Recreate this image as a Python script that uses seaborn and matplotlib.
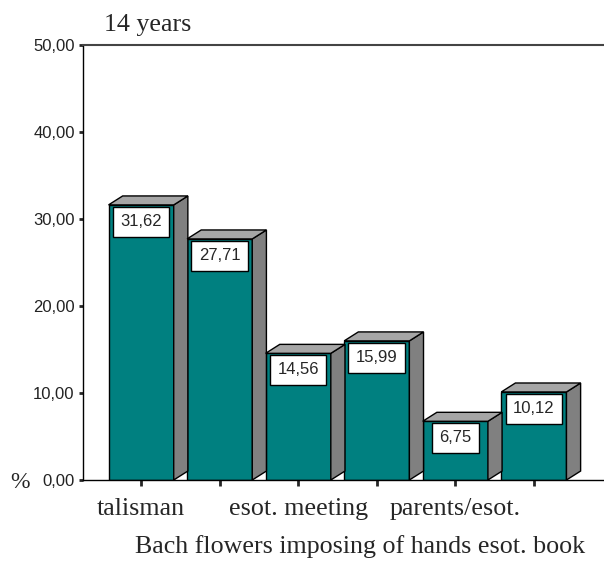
import matplotlib
matplotlib.use("Agg")
import matplotlib.pyplot as plt
from matplotlib.patches import Polygon
from matplotlib.ticker import FuncFormatter
import seaborn as sns

# data
categories = ["talisman", "Bach flowers", "esot. meeting",
              "imposing of hands", "parents/esot.", "esot. book"]
values = [31.62, 27.71, 14.56, 15.99, 6.75, 10.12]
y_ticks = [0, 10, 20, 30, 40, 50]
title = "14 years"
unit = "%"

TEAL = "#008080"
SIDE = "#808080"
TOP = "#a6a6a6"
SERIF = ["Liberation Serif", "DejaVu Serif"]
SANS = ["Liberation Sans", "DejaVu Sans"]


def comma_fmt(v, _pos):
    return f"{v:.2f}".replace(".", ",")


def main():
    sns.set_style("white")
    fig = plt.figure(figsize=(6.04, 5.61), dpi=100)
    ax = fig.add_axes([83 / 604, 81 / 561, 520 / 604, 435 / 561])

    sns.barplot(x=categories, y=values, order=categories, color=TEAL,
                saturation=1, width=0.83, edgecolor="black", linewidth=1,
                ax=ax)

    # fake 3D: side and top faces from the drawn bars
    dx, dy = 0.18, 1.03
    for p in list(ax.patches):
        x0, w, h = p.get_x(), p.get_width(), p.get_height()
        x1 = x0 + w
        side = Polygon([(x1, 0), (x1, h), (x1 + dx, h + dy), (x1 + dx, dy)],
                       closed=True, facecolor=SIDE, edgecolor="black",
                       linewidth=1, zorder=p.get_zorder())
        top = Polygon([(x0, h), (x1, h), (x1 + dx, h + dy), (x0 + dx, h + dy)],
                      closed=True, facecolor=TOP, edgecolor="black",
                      linewidth=1, zorder=p.get_zorder())
        ax.add_patch(side)
        ax.add_patch(top)

    # value boxes
    for i, v in enumerate(values):
        ax.annotate(comma_fmt(v, None), xy=(i, v), xytext=(0, -12),
                    textcoords="offset points", ha="center", va="center",
                    fontsize=12, family=SANS,
                    bbox=dict(boxstyle="square,pad=0.45", facecolor="white",
                              edgecolor="black", linewidth=1))

    ax.set_xlim(-0.74, 5.88)
    ax.set_ylim(0, 50)
    ax.set_yticks(y_ticks)
    ax.yaxis.set_major_formatter(FuncFormatter(comma_fmt))
    ax.set_xlabel("")
    ax.set_ylabel("")

    ax.set_xticks(range(len(categories)))
    ax.set_xticklabels([c if i % 2 == 0 else "" for i, c in enumerate(categories)])
    for lab in ax.get_xticklabels():
        lab.set_fontfamily(SERIF)
        lab.set_fontsize(18.7)
    for lab in ax.get_yticklabels():
        lab.set_fontfamily(SANS)
        lab.set_fontsize(12)
        lab.set_color("#222222")

    ax.tick_params(axis="x", direction="out", length=4, width=2, pad=9,
                   bottom=True)
    ax.tick_params(axis="y", direction="out", length=3, width=2, pad=3,
                   left=True)

    for s in ["left", "bottom"]:
        ax.spines[s].set_color("black")
        ax.spines[s].set_linewidth(1)
    ax.spines["top"].set_color("#444444")
    ax.spines["top"].set_linewidth(1.5)
    ax.spines["right"].set_visible(False)

    # second row of category labels
    fig.text(360 / 604, 1 - 553 / 561, " ".join(categories[1::2]),
             ha="center", va="baseline", fontsize=18.7, family=SERIF)
    fig.text(104 / 604, 1 - 31 / 561, title, ha="left", va="baseline",
             fontsize=18.7, family=SERIF)
    fig.text(10 / 604, 1 - 482 / 561, unit, ha="left", va="center",
             fontsize=17, family=SERIF)

    fig.savefig("out.png", dpi=100)
    plt.close(fig)


if __name__ == "__main__":
    main()
